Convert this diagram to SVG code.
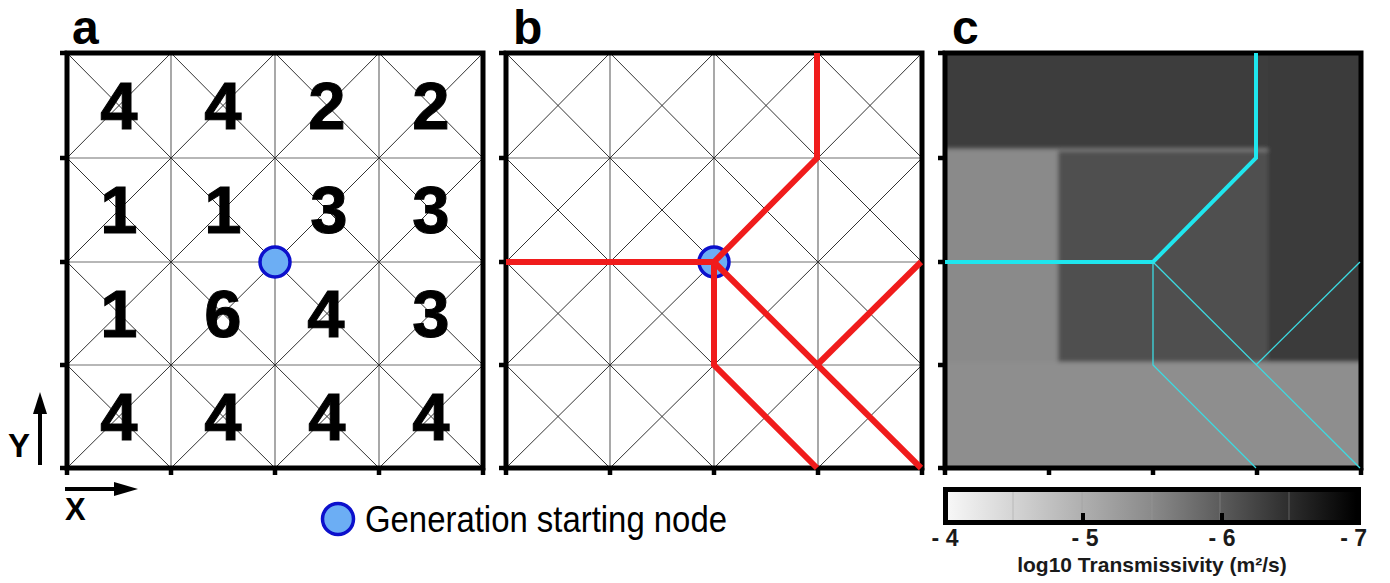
<svg xmlns="http://www.w3.org/2000/svg" width="1390" height="583" viewBox="0 0 1390 583">
<style>
.grid{fill:none;stroke:#333;stroke-width:1}
.gridhv{fill:none;stroke:#707070;stroke-width:1.2}
.frame{fill:none;stroke:#000;stroke-width:5}
.tick{fill:none;stroke:#000;stroke-width:4.5}
.num{font-family:"Liberation Sans",Arial,sans-serif;font-weight:bold;font-size:67px;text-anchor:middle;fill:#000;stroke:#000;stroke-width:1}
.lab{font-family:"Liberation Sans",Arial,sans-serif;font-weight:bold;font-size:48px;fill:#000}
.ax{font-family:"Liberation Sans",Arial,sans-serif;font-weight:bold;fill:#000}
.node{fill:#6caef4;stroke:#0c10cc;stroke-width:3.5}
.red{fill:none;stroke:#f01c1c;stroke-width:6;stroke-linejoin:miter}
.cyanthick{fill:none;stroke:#1fe6ee;stroke-width:4}
.cyanthin{fill:none;stroke:#3cdbe2;stroke-width:1.3}
.cb{font-family:"Liberation Sans",Arial,sans-serif;font-weight:bold;fill:#1a1a1a}
</style>
<defs>
<g id="gridlines">
<path class="gridhv" d="M171 53V468M275 53V468M379 53V468M67 158H483M67 262H483M67 365H483"/>
<path class="grid" d="M67 53L171 158M171 53L67 158M171 53L275 158M275 53L171 158M275 53L379 158M379 53L275 158M379 53L483 158M483 53L379 158M67 158L171 262M171 158L67 262M171 158L275 262M275 158L171 262M275 158L379 262M379 158L275 262M379 158L483 262M483 158L379 262M67 262L171 365M171 262L67 365M171 262L275 365M275 262L171 365M275 262L379 365M379 262L275 365M379 262L483 365M483 262L379 365M67 365L171 468M171 365L67 468M171 365L275 468M275 365L171 468M275 365L379 468M379 365L275 468M379 365L483 468M483 365L379 468"/>
</g>
<g id="frame">
<rect class="frame" x="67" y="53" width="416" height="415"/>
<path class="tick" d="M60 53H67M60 158H67M60 262H67M60 365H67M60 468H67M67 468V475M171 468V475M275 468V475M379 468V475M483 468V475"/>
</g>
<clipPath id="clipc"><rect x="945" y="53" width="415" height="415"/></clipPath>
<filter id="soft" x="-5%" y="-5%" width="110%" height="110%"><feGaussianBlur stdDeviation="2.2"/></filter>
<linearGradient id="cbgrad" x1="0" y1="0" x2="1" y2="0">
<stop offset="0" stop-color="#f7f7f7"/>
<stop offset="0.5" stop-color="#8a8a8a"/>
<stop offset="1" stop-color="#000"/>
</linearGradient>
</defs>

<g id="panel-a">
<text class="lab" x="72" y="44">a</text>
<use href="#gridlines"/>
<g id="cell-values">
<text class="num" x="119" y="129">4</text>
<text class="num" x="223" y="129">4</text>
<text class="num" x="327" y="129">2</text>
<text class="num" x="431" y="129">2</text>
<text class="num" x="119" y="233">1</text>
<text class="num" x="223" y="233">1</text>
<text class="num" x="329" y="233">3</text>
<text class="num" x="431" y="233">3</text>
<text class="num" x="119" y="337">1</text>
<text class="num" x="223" y="337">6</text>
<text class="num" x="326" y="337">4</text>
<text class="num" x="431" y="337">3</text>
<text class="num" x="119" y="440">4</text>
<text class="num" x="223" y="440">4</text>
<text class="num" x="327" y="440">4</text>
<text class="num" x="431" y="440">4</text>
</g>
<circle id="node-a" class="node" cx="275" cy="262" r="15"/>
<use href="#frame"/>
</g>

<g id="panel-b">
<text class="lab" x="513" y="44">b</text>
<use href="#gridlines" transform="translate(439,0)"/>
<circle id="node-b" class="node" cx="714" cy="262" r="15"/>
<use href="#frame" transform="translate(439,0)"/>
</g>

<g id="panel-c">
<text class="lab" x="952" y="44">c</text>
<g clip-path="url(#clipc)">
<g filter="url(#soft)">
<rect x="925" y="35" width="455" height="450" fill="#8e8e8e"/>
<rect x="925" y="35" width="455" height="114" fill="#3d3d3d"/>
<rect x="1268" y="35" width="112" height="327" fill="#3a3a3a"/>
<rect x="1058" y="151" width="210" height="211" fill="#4f4f4f"/>
<rect x="925" y="149" width="133" height="213" fill="#8a8a8a"/>
</g>
</g>
<use href="#frame" transform="translate(878,0)"/>
</g>

<g id="connectors">
<g id="red-paths">
<path class="red" d="M506 262H714L817 158V53"/>
<path class="red" d="M714 262V365L817 468"/>
<path class="red" d="M714 262L921 468"/>
<path class="red" d="M817 365L921 262"/>
</g>
<g id="cyan-paths">
<path class="cyanthick" d="M945 262H1153L1256 158V53"/>
<path class="cyanthin" d="M1153 262V365L1256 468"/>
<path class="cyanthin" d="M1153 262L1360 468"/>
<path class="cyanthin" d="M1256 365L1360 262"/>
</g>
</g>

<g id="axes">
<line x1="40" y1="465" x2="40" y2="410" stroke="#000" stroke-width="4"/>
<polygon points="40,392 33,414 47,414" fill="#000"/>
<text class="ax" x="8" y="457" font-size="33">Y</text>
<line x1="65" y1="489" x2="120" y2="489" stroke="#000" stroke-width="4"/>
<polygon points="138,489 114,482 114,496" fill="#000"/>
<text class="ax" x="65" y="520" font-size="31">X</text>
</g>

<g id="legend">
<circle class="node" cx="338" cy="519" r="15.5"/>
<text x="365" y="532" font-family="'Liberation Sans',Arial,sans-serif" font-size="37" textLength="362" lengthAdjust="spacingAndGlyphs" fill="#000">Generation starting node</text>
</g>

<g id="colorbar">
<rect x="943" y="487" width="418" height="38" fill="#000"/>
<rect x="948" y="492" width="408" height="28" fill="url(#cbgrad)"/>
<path d="M1013 492V520M1082 492V520M1152 492V520M1220 492V520M1289 492V520" stroke="#9a9a9a" stroke-width="0.8" opacity="0.6"/>
<path d="M1083 513V520M1222 513V520" stroke="#000" stroke-width="4"/>
<text class="cb" x="945" y="546" font-size="23" text-anchor="middle">- 4</text>
<text class="cb" x="1085" y="546" font-size="23" text-anchor="middle">- 5</text>
<text class="cb" x="1222" y="546" font-size="23" text-anchor="middle">- 6</text>
<text class="cb" x="1367" y="546" font-size="23" text-anchor="end">- 7</text>
<text class="cb" x="1152" y="572" font-size="21" text-anchor="middle">log10 Transmissivity (m²/s)</text>
</g>
</svg>
